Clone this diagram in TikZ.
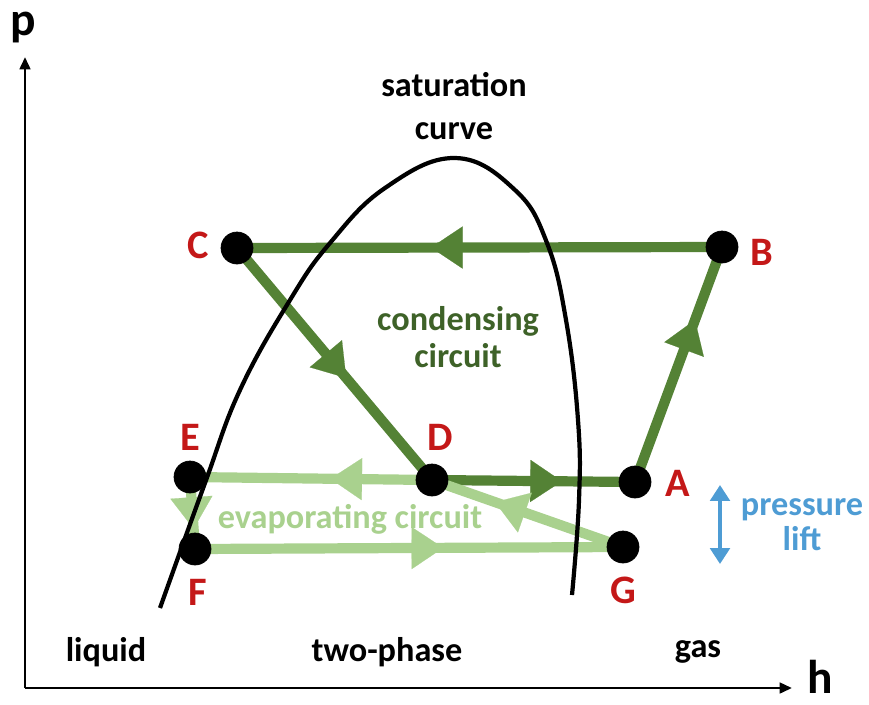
\documentclass[tikz,border=0pt]{standalone}
\usepackage{fontspec}
\setmainfont{Carlito}
\usetikzlibrary{arrows.meta}
\usetikzlibrary{decorations.markings}

\definecolor{conddark}{RGB}{84,130,53}
\definecolor{condtext}{RGB}{62,98,40}
\definecolor{evaplight}{RGB}{169,209,142}
\definecolor{statered}{RGB}{196,24,24}
\definecolor{liftblue}{RGB}{78,156,212}

\tikzset{
  axis/.style={line width=1.6pt, -{Triangle[length=7pt,width=6pt]}},
  cond/.style={draw=conddark, line width=5.8pt},
  evap/.style={draw=evaplight, line width=5.8pt},
  flow/.style={postaction={decorate}, decoration={markings,
      mark=at position #1 with {\arrow{Triangle[length=18pt,width=24pt,line width=0.1pt]}}}},
  bigtxt/.style={font=\fontsize{27}{27}\selectfont\bfseries, inner sep=0pt},
  txt/.style={font=\fontsize{19.5}{24}\selectfont\bfseries, inner sep=0pt, align=center},
  statelbl/.style={text=statered, font=\fontsize{23}{23}\selectfont\bfseries, inner sep=0pt},
}

\begin{document}
\begin{tikzpicture}[x=0.02cm, y=-0.02cm]
\useasboundingbox (0,0) rectangle (869,704);

% axes
\coordinate (origin) at (25,688);
\coordinate (ptop) at (25,57);
\coordinate (hend) at (792,688);
\draw[axis] (origin) -- (ptop);
\draw[axis] (origin) -- (hend);
\node[bigtxt] (p) at (23,28) {p};
\node[bigtxt] (h) at (820,677) {h};

% states
\foreach \n/\x/\y in {A/635/482, B/722/247, C/237/248, D/432/480,
                      E/190/477, F/195/549, G/623/547}
  \coordinate (\n) at (\x,\y);

% cycle
\foreach \i/\j/\s/\t in {
  B/C/cond/0.6,
  C/D/cond/0.56,
  D/A/cond/0.64,
  A/B/cond/0.69,
  D/E/evap/0.42,
  E/F/evap/0.72,
  F/G/evap/0.58,
  G/D/evap/0.67
  }{\draw[\s, flow=\t] (\i) -- (\j);}

% saturation curve
\draw[line width=2.4pt] plot[smooth, tension=0.7] coordinates {
  (160,608) (205,483) (240,390) (290,300) (330,243) (385,188)
  (455,158) (515,190) (547,243) (566,320) (578,420) (579,500) (572,595)};

% dots and letters
\foreach \n in {A,...,G}
  \filldraw[black] (\n) circle (0.32cm);
\node[statelbl] (lA) at ([xshift=0.86cm, yshift=-0.02cm]A) {A};
\node[statelbl] (lB) at ([xshift=0.8cm, yshift=-0.1cm]B) {B};
\node[statelbl] (lC) at ([xshift=-0.78cm, yshift=0.06cm]C) {C};
\node[statelbl] (lD) at ([xshift=0.16cm, yshift=0.86cm]D) {D};
\node[statelbl] (lE) at ([yshift=0.8cm]E) {E};
\node[statelbl] (lF) at ([xshift=0.06cm, yshift=-0.86cm]F) {F};
\node[statelbl] (lG) at ([yshift=-0.86cm]G) {G};

% texts
\node[txt] (satlbl) at (454,106) {saturation\\curve};
\node[txt, text=condtext, font=\fontsize{19.5}{21}\selectfont\bfseries] (condlbl) at (458,337) {condensing\\circuit};
\node[txt, text=evaplight] (evaplbl) at (350,519) {evaporating circuit};
\node[txt, text=liftblue, font=\fontsize{19.5}{20}\selectfont\bfseries] (liftlbl) at (802,525) {pressure\\lift};
\node[txt] (liquid) at (106,652) {liquid};
\node[txt] (twophase) at (387,652) {two-phase};
\node[txt] (gas) at (698,652) {gas};

% pressure lift arrow
\coordinate (lifttop) at (720,485);
\coordinate (liftbot) at (720,564);
\draw[liftblue, line width=2.4pt, {Triangle[length=9pt,width=11pt]}-{Triangle[length=9pt,width=11pt]}] (lifttop) -- (liftbot);
\end{tikzpicture}
\end{document}
